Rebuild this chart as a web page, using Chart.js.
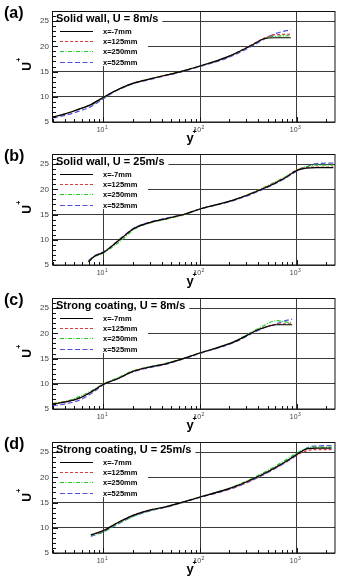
<!DOCTYPE html>
<html>
<head>
<meta charset="utf-8">
<script src="https://cdn.jsdelivr.net/npm/chart.js@4.4.0/dist/chart.umd.min.js"></script>
<style>
  body { margin: 0; background: #fff; width: 337px; height: 576px; position: relative; overflow: hidden; }
  canvas { position: absolute; left: 0; }
</style>
</head>
<body>
<canvas id="chartA" width="337" height="150" style="top:0px"></canvas>
<canvas id="chartB" width="337" height="150" style="top:143px"></canvas>
<canvas id="chartC" width="337" height="150" style="top:287px"></canvas>
<canvas id="chartD" width="337" height="150" style="top:431px"></canvas>
<script>
// datos
const seriesNames = ['x=-7mm', 'x=125mm', 'x=250mm', 'x=525mm'];
const panelTags = ['(a)', '(b)', '(c)', '(d)'];
const panelTitles = ['Solid wall, U = 8m/s', 'Solid wall, U = 25m/s', 'Strong coating, U = 8m/s', 'Strong coating, U = 25m/s'];
const yTicks = [5, 10, 15, 20, 25];
const xTicks = [10, 100, 1000];
const xTickExp = ['1', '2', '3'];

// (a) solid wall, 8 m/s
const aX     = [3, 4, 5.3, 7.3, 10, 12.7, 20.5, 33, 63, 100, 192, 335, 460, 600, 870];
const aBlack = [6.0, 6.6, 7.4, 8.4, 9.9, 11.0, 12.7, 13.7, 15.0, 16.1, 17.9, 20.1, 21.5, 21.7, 21.7];
const aRed   = [6.0, 6.6, 7.4, 8.4, 9.9, 11.0, 12.7, 13.7, 15.0, 16.1, 17.9, 20.2, 21.6, 22.3, 22.4];
const aGreen = [6.0, 6.6, 7.4, 8.3, 9.8, 11.0, 12.7, 13.7, 15.0, 16.1, 17.9, 20.1, 21.5, 22.0, 22.1];
const aBlue  = [5.8, 6.3, 7.0, 8.0, 9.6, 10.9, 12.6, 13.6, 14.9, 16.0, 17.7, 19.9, 21.4, 22.5, 23.3];

// (b) solid wall, 25 m/s
const bX     = [7, 8, 10, 12.7, 16, 20.5, 30, 45, 70, 100, 225, 425, 750, 1000, 1250, 1600, 2400];
const bBlack = [5.6, 6.7, 7.5, 9.0, 10.6, 12.2, 13.4, 14.2, 15.1, 16.1, 17.9, 19.9, 22.2, 23.7, 24.2, 24.3, 24.3];
const bRed   = [5.7, 6.7, 7.5, 9.0, 10.6, 12.2, 13.4, 14.2, 15.1, 16.1, 17.9, 20.0, 22.3, 23.8, 24.3, 24.4, 24.4];
const bGreen = [5.8, 6.6, 7.4, 8.7, 10.2, 12.0, 13.3, 14.1, 15.0, 16.1, 17.9, 20.1, 22.4, 23.8, 24.5, 24.8, 24.8];
const bBlue  = [5.9, 6.8, 7.6, 9.1, 10.7, 12.3, 13.5, 14.3, 15.1, 16.1, 17.8, 19.8, 22.1, 23.6, 24.4, 25.1, 25.2];

// (c) strong coating, 8 m/s
const cX     = [3, 4.2, 5.7, 7.5, 10, 14, 20.5, 30, 45, 100, 225, 424, 620, 800, 900];
const cBlack = [6.0, 6.45, 7.2, 8.4, 9.9, 11.0, 12.5, 13.3, 14.0, 16.1, 18.3, 20.9, 21.7, 21.7, 21.7];
const cRed   = [6.0, 6.5, 7.2, 8.4, 9.9, 11.0, 12.5, 13.3, 14.0, 16.1, 18.3, 20.9, 21.8, 21.9, 21.9];
const cGreen = [6.1, 6.6, 7.5, 8.6, 10.0, 11.2, 12.6, 13.4, 14.1, 16.1, 18.4, 21.2, 22.5, 22.2, 22.1];
const cBlue  = [5.65, 6.1, 6.8, 8.1, 9.8, 11.0, 12.4, 13.2, 13.9, 16.0, 18.2, 20.8, 21.9, 22.6, 22.8];

// (d) strong coating, 25 m/s
const dX     = [7.4, 10, 14, 20.5, 30, 45, 100, 225, 424, 750, 1000, 1300, 1600, 2300];
const dBlack = [8.6, 9.45, 11.0, 12.5, 13.5, 14.2, 16.1, 18.1, 20.4, 23.0, 24.5, 25.7, 25.8, 25.8];
const dRed   = [8.6, 9.4, 11.0, 12.5, 13.5, 14.2, 16.1, 18.0, 20.3, 22.9, 24.4, 25.3, 25.5, 25.5];
const dGreen = [8.5, 9.2, 10.8, 12.3, 13.4, 14.2, 16.1, 18.2, 20.6, 23.3, 24.8, 25.8, 26.0, 26.0];
const dBlue  = [8.3, 9.2, 10.7, 12.3, 13.3, 14.1, 16.0, 17.9, 20.2, 22.8, 24.3, 25.9, 26.2, 26.3];

const colores = ['#000000', '#e03c3c', '#22c922', '#5050e6'];
const trazos = [[], [3, 2], [4, 1.5, 1, 1.5], [5, 2.5]];
const FONT = '"Liberation Sans", Arial, sans-serif';

// dibuja marco, ticks, etiquetas y leyenda
const panelDeco = {
  id: 'panelDeco',
  beforeDatasetsDraw(chart, args, o) {
    const { ctx, chartArea: a } = chart;
    ctx.save();
    ctx.font = 'bold 11px ' + FONT;
    const tw = ctx.measureText(o.title).width;
    ctx.fillStyle = '#fff';
    ctx.fillRect(a.left + 1, a.top + 1, tw + 6, 14);
    ctx.fillRect(a.left + 1, a.top + 1, 94, 54);
    ctx.restore();
  },
  afterDraw(chart, args, o) {
    const { ctx, chartArea: a, scales: { x, y } } = chart;
    ctx.save();
    // marco
    ctx.strokeStyle = '#111';
    ctx.lineWidth = 1;
    ctx.strokeRect(Math.round(a.left) - 0.5, Math.round(a.top) + 0.5, Math.round(a.width) + 0.5, Math.round(a.height) - 0.5);

    // ticks menores hacia adentro
    ctx.beginPath();
    for (let e = 0; e <= 3; e++) {
      for (let m = 1; m <= 9; m++) {
        const v = m * Math.pow(10, e);
        if (v < x.min || v > x.max) continue;
        const px = Math.round(x.getPixelForValue(v)) + 0.5;
        const len = m === 1 ? 5 : 3;
        ctx.moveTo(px, a.bottom);
        ctx.lineTo(px, a.bottom - len);
      }
    }
    for (let v = 5; v <= 27; v++) {
      const py = Math.round(y.getPixelForValue(v)) + 0.5;
      const len = v % 5 === 0 ? 5 : 3;
      ctx.moveTo(a.left, py);
      ctx.lineTo(a.left + len, py);
    }
    ctx.stroke();

    // etiquetas eje y
    ctx.fillStyle = '#444';
    ctx.font = '8px ' + FONT;
    ctx.textAlign = 'right';
    ctx.textBaseline = 'middle';
    yTicks.forEach(v => ctx.fillText(String(v), a.left - 4, y.getPixelForValue(v)));

    // etiquetas eje x (10^n)
    ctx.textBaseline = 'alphabetic';
    xTicks.forEach((v, i) => {
      const px = x.getPixelForValue(v);
      ctx.font = '7px ' + FONT;
      ctx.textAlign = 'right';
      ctx.fillText('10', px + 1, a.bottom + 10);
      ctx.font = '5px ' + FONT;
      ctx.textAlign = 'left';
      ctx.fillText(xTickExp[i], px + 1.5, a.bottom + 6.5);
    });

    // titulos de ejes
    ctx.fillStyle = '#000';
    ctx.save();
    ctx.translate(30.5, (a.top + a.bottom) / 2);
    ctx.rotate(-Math.PI / 2);
    ctx.font = 'bold 12px ' + FONT;
    ctx.textAlign = 'center';
    ctx.fillText('U', 0, 0);
    ctx.font = 'bold 7px ' + FONT;
    ctx.textAlign = 'left';
    ctx.fillText('+', 4.8, -9.5);
    ctx.restore();

    ctx.font = 'bold 13px ' + FONT;
    ctx.textAlign = 'center';
    ctx.fillText('y', 190, a.bottom + 19.5);
    ctx.font = 'bold 7px ' + FONT;
    ctx.textAlign = 'left';
    ctx.fillText('+', 192.5, a.bottom + 11.5);

    // etiqueta del panel
    ctx.font = 'bold 16px ' + FONT;
    ctx.fillText(o.tag, 4, 18);

    // titulo y leyenda
    ctx.font = 'bold 11px ' + FONT;
    ctx.fillText(o.title, a.left + 3, a.top + 10.7);
    ctx.font = 'bold 7.5px ' + FONT;
    ctx.textBaseline = 'middle';
    seriesNames.forEach((name, k) => {
      const ly = Math.round(a.top + 19.5 + k * 10.45) + 0.5;
      ctx.strokeStyle = colores[k];
      ctx.lineWidth = 1.2;
      ctx.setLineDash(trazos[k]);
      ctx.beginPath();
      ctx.moveTo(a.left + 7, ly);
      ctx.lineTo(a.left + 40, ly);
      ctx.stroke();
      ctx.fillStyle = '#000';
      ctx.fillText(name, a.left + 50, ly);
    });
    ctx.restore();
  }
};

const makeChart = (id, idx, xs, series) => {
  return new Chart(document.getElementById(id), {
    type: 'line',
    data: {
      datasets: series.map((vals, k) => ({
        label: seriesNames[k],
        data: xs.map((v, i) => ({ x: v, y: vals[i] })),
        borderColor: colores[k],
        borderWidth: 1.2,
        borderDash: trazos[k],
        pointRadius: 0,
        cubicInterpolationMode: 'monotone',
        fill: false
      }))
    },
    options: {
      responsive: false,
      animation: false,
      devicePixelRatio: 1,
      layout: { padding: { left: 53, right: 2, top: 11, bottom: 28 } },
      plugins: {
        legend: { display: false },
        tooltip: { enabled: false },
        panelDeco: { tag: panelTags[idx], title: panelTitles[idx] }
      },
      scales: {
        x: {
          type: 'logarithmic', min: 3, max: 2500,
          afterBuildTicks: s => { s.ticks = xTicks.map(v => ({ value: v })); },
          ticks: { display: false },
          grid: { color: '#3a3a3a', lineWidth: 1, drawTicks: false },
          border: { display: false }
        },
        y: {
          min: 5, max: 27,
          afterBuildTicks: s => { s.ticks = yTicks.map(v => ({ value: v })); },
          ticks: { display: false },
          grid: { color: '#3a3a3a', lineWidth: 1, drawTicks: false },
          border: { display: false }
        }
      }
    },
    plugins: [panelDeco]
  });
};

makeChart('chartA', 0, aX, [aBlack, aRed, aGreen, aBlue]);
makeChart('chartB', 1, bX, [bBlack, bRed, bGreen, bBlue]);
makeChart('chartC', 2, cX, [cBlack, cRed, cGreen, cBlue]);
makeChart('chartD', 3, dX, [dBlack, dRed, dGreen, dBlue]);
</script>
</body>
</html>
